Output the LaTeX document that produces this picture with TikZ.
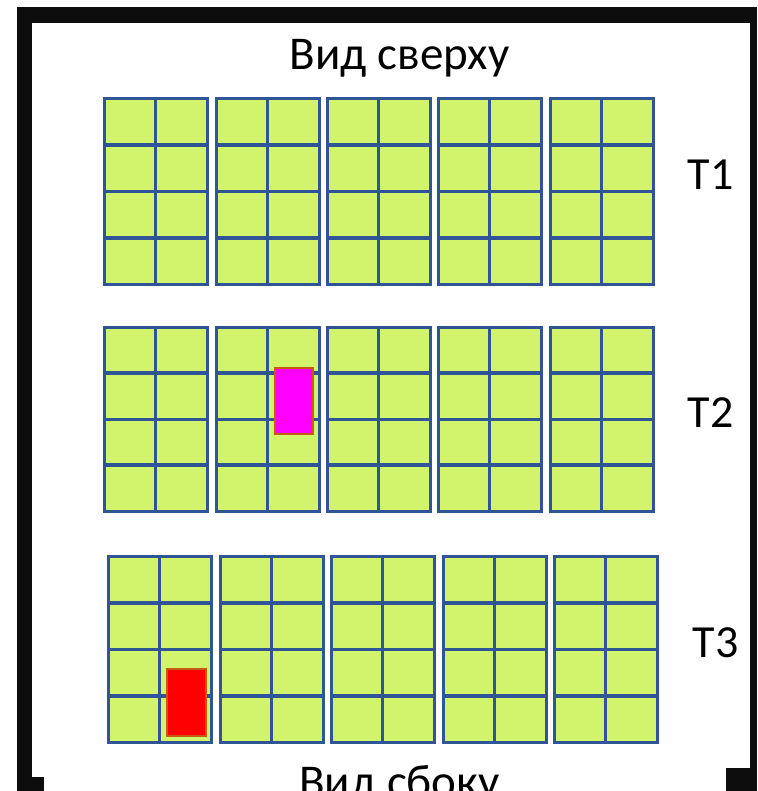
\documentclass[tikz,border=0pt]{standalone}
\usepackage{fontspec}
\setmainfont{Carlito}
\definecolor{cellg}{HTML}{D2F46C}
\definecolor{cellb}{HTML}{2F5597}
\definecolor{frm}{HTML}{0D0D0D}
\definecolor{ored}{HTML}{C55A11}
\definecolor{magn}{HTML}{FF00FF}
\definecolor{redm}{HTML}{FF0000}
\tikzset{
  cellfill/.style={fill=cellg},
  cellline/.style={draw=cellb, line width=3pt},
  cellthick/.style={draw=cellb, line width=4pt},
  framepart/.style={fill=frm},
  marker/.style={draw=ored, line width=2.5pt},
  titletext/.style={inner sep=0pt, anchor=base, font=\fontsize{47}{56}\selectfont},
  rowlabel/.style={inner sep=0pt, anchor=base, font=\fontsize{46}{55}\selectfont},
}
\newcommand\myblk[3]{%
  \fill[cellfill] (#1,#2) rectangle (#1+103,#3);
  \draw[cellline] (#1+51.5,#2) -- (#1+51.5,#3);
  \draw[cellthick] (#1,{#2+(#3-#2)/4}) -- (#1+103,{#2+(#3-#2)/4});
  \draw[cellline] (#1,{#2+(#3-#2)/2}) -- (#1+103,{#2+(#3-#2)/2});
  \draw[cellthick] (#1,{#2+3*(#3-#2)/4}) -- (#1+103,{#2+3*(#3-#2)/4});
  \draw[cellline] (#1,#2) rectangle (#1+103,#3);
}
\begin{document}
\begin{tikzpicture}[x=1pt,y=-1pt]
\useasboundingbox (0,0) rectangle (757,791);
\fill[white] (0,0) rectangle (757,791);
% frame
\fill[framepart] (17,7) rectangle (757,23);
\fill[framepart] (17,7) rectangle (32,791);
\fill[framepart] (750,7) rectangle (757,791);
\fill[framepart] (17,777) rectangle (44,791);
\fill[framepart] (726,768) rectangle (757,791);
% grids
\foreach \x in {104,216,327,438,550} {\myblk{\x}{99}{284}}
\foreach \x in {104,216,327,438,550} {\myblk{\x}{327}{511}}
\foreach \x in {108,220,331,443,554} {\myblk{\x}{556}{742}}
% markers
\draw[marker, fill=magn] (275,368) rectangle (313,434);
\draw[marker, fill=redm] (167,669) rectangle (206,736);
% texts
\node[titletext] (top) at (399.5,70) {Вид сверху};
\node[titletext] (side) at (399.5,797) {Вид сбоку};
\node[rowlabel] (t1) at (710.5,190) {T1};
\node[rowlabel] (t2) at (710.5,427) {T2};
\node[rowlabel] (t3) at (715.5,657) {T3};
\end{tikzpicture}
\end{document}
